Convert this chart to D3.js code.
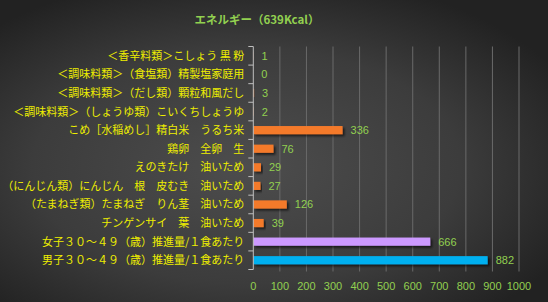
<!DOCTYPE html>
<html>
<head>
<meta charset="utf-8">
<script src="https://cdnjs.cloudflare.com/ajax/libs/d3/7.8.5/d3.min.js"></script>
<style>
  body { margin: 0; background: #333; }
  svg { display: block; }
</style>
</head>
<body>
<div id="chart"></div>
<script>
const categories = [
  "＜香辛料類＞こしょう 黒 粉",
  "＜調味料類＞（食塩類）精製塩家庭用",
  "＜調味料類＞（だし類）顆粒和風だし",
  "＜調味料類＞（しょうゆ類）こいくちしょうゆ",
  "こめ［水稲めし］精白米　うるち米",
  "鶏卵　全卵　生",
  "えのきたけ　油いため",
  "（にんじん類）にんじん　根　皮むき　油いため",
  "（たまねぎ類）たまねぎ　りん茎　油いため",
  "チンゲンサイ　葉　油いため",
  "女子３０～４９（歳）推進量/１食あたり",
  "男子３０～４９（歳）推進量/１食あたり"
];
const values = [1, 0, 3, 2, 336, 76, 29, 27, 126, 39, 666, 882];
const barColors = ["#f47a2c", "#f47a2c", "#f47a2c", "#f47a2c", "#f47a2c", "#f47a2c",
                   "#f47a2c", "#f47a2c", "#f47a2c", "#f47a2c", "#cc99ff", "#00b0f0"];
const xTicks = [0, 100, 200, 300, 400, 500, 600, 700, 800, 900, 1000];
const title = "エネルギー（639Kcal）";

const W = 548, H = 302;
const margin = {top: 46.5, right: 29, bottom: 32.5, left: 253.3};

const svg = d3.select("#chart").append("svg")
  .attr("width", W)
  .attr("height", H);

const defs = svg.append("defs");
const grad = defs.append("radialGradient")
  .attr("id", "bg")
  .attr("cx", "45%").attr("cy", "55%").attr("r", "65%");
grad.append("stop").attr("offset", "0%").attr("stop-color", "#4d4d4d");
grad.append("stop").attr("offset", "60%").attr("stop-color", "#3c3c3c");
grad.append("stop").attr("offset", "100%").attr("stop-color", "#222");

const shadow = defs.append("filter").attr("id", "shadow")
  .attr("x", "-10%").attr("y", "-50%").attr("width", "130%").attr("height", "250%");
shadow.append("feDropShadow")
  .attr("dx", 2).attr("dy", 2).attr("stdDeviation", 1.2)
  .attr("flood-color", "#000").attr("flood-opacity", 0.6);

svg.append("rect").attr("width", W).attr("height", H).attr("fill", "url(#bg)");

const x = d3.scaleLinear()
  .domain([0, 1000])
  .range([margin.left, W - margin.right]);

const y = d3.scaleBand()
  .domain(categories)
  .range([margin.top, H - margin.bottom])
  .paddingInner(0.56)
  .paddingOuter(0.28);

// gridlines
svg.append("g")
  .selectAll("line")
  .data(xTicks.slice(1))
  .enter()
  .append("line")
  .attr("x1", d => x(d)).attr("x2", d => x(d))
  .attr("y1", margin.top).attr("y2", H - margin.bottom + 2)
  .attr("stroke", "#6a6a6a")
  .attr("stroke-width", 1);

// bars
svg.append("g")
  .selectAll("rect")
  .data(values)
  .enter()
  .append("rect")
  .attr("x", x(0))
  .attr("y", (d, i) => y(categories[i]))
  .attr("width", d => x(d) - x(0))
  .attr("height", y.bandwidth())
  .attr("fill", (d, i) => barColors[i])
  .attr("filter", "url(#shadow)");

// value labels
svg.append("g")
  .selectAll("text")
  .data(values)
  .enter()
  .append("text")
  .attr("x", d => x(d) + 8)
  .attr("y", (d, i) => y(categories[i]) + y.bandwidth() / 2)
  .attr("dy", "0.36em")
  .attr("fill", "#92d050")
  .style("font", "11px 'Liberation Sans', Arial, sans-serif")
  .text(d => d);

// y axis line and boundary ticks
const axisG = svg.append("g");
axisG.append("line")
  .attr("x1", x(0)).attr("x2", x(0))
  .attr("y1", margin.top).attr("y2", H - margin.bottom)
  .attr("stroke", "#bfbfbf");
const step = y.step();
const bounds = d3.range(categories.length + 1).map(i => margin.top + i * (H - margin.top - margin.bottom) / categories.length);
axisG.selectAll(".tk")
  .data(bounds)
  .enter()
  .append("line")
  .attr("x1", x(0) - 5).attr("x2", x(0))
  .attr("y1", d => d).attr("y2", d => d)
  .attr("stroke", "#bfbfbf");

// category labels
svg.append("g")
  .selectAll("text")
  .data(categories)
  .enter()
  .append("text")
  .attr("x", x(0) - 9)
  .attr("y", d => y(d) + y.bandwidth() / 2)
  .attr("dy", "0.36em")
  .attr("text-anchor", "end")
  .attr("fill", "#eeee00")
  .style("font", "11px 'Noto Sans CJK JP', sans-serif")
  .text(d => d);

// x tick labels
svg.append("g")
  .selectAll("text")
  .data(xTicks)
  .enter()
  .append("text")
  .attr("x", d => x(d))
  .attr("y", 286)
  .attr("dy", "0.36em")
  .attr("text-anchor", "middle")
  .attr("fill", "#92d050")
  .style("font", "11px 'Liberation Sans', Arial, sans-serif")
  .text(d => d);

// title
svg.append("text")
  .attr("x", 257)
  .attr("y", 20)
  .attr("dy", "0.36em")
  .attr("text-anchor", "middle")
  .attr("fill", "#92d050")
  .style("font", "bold 11.5px 'Noto Sans CJK JP', sans-serif")
  .text(title);
</script>
</body>
</html>
